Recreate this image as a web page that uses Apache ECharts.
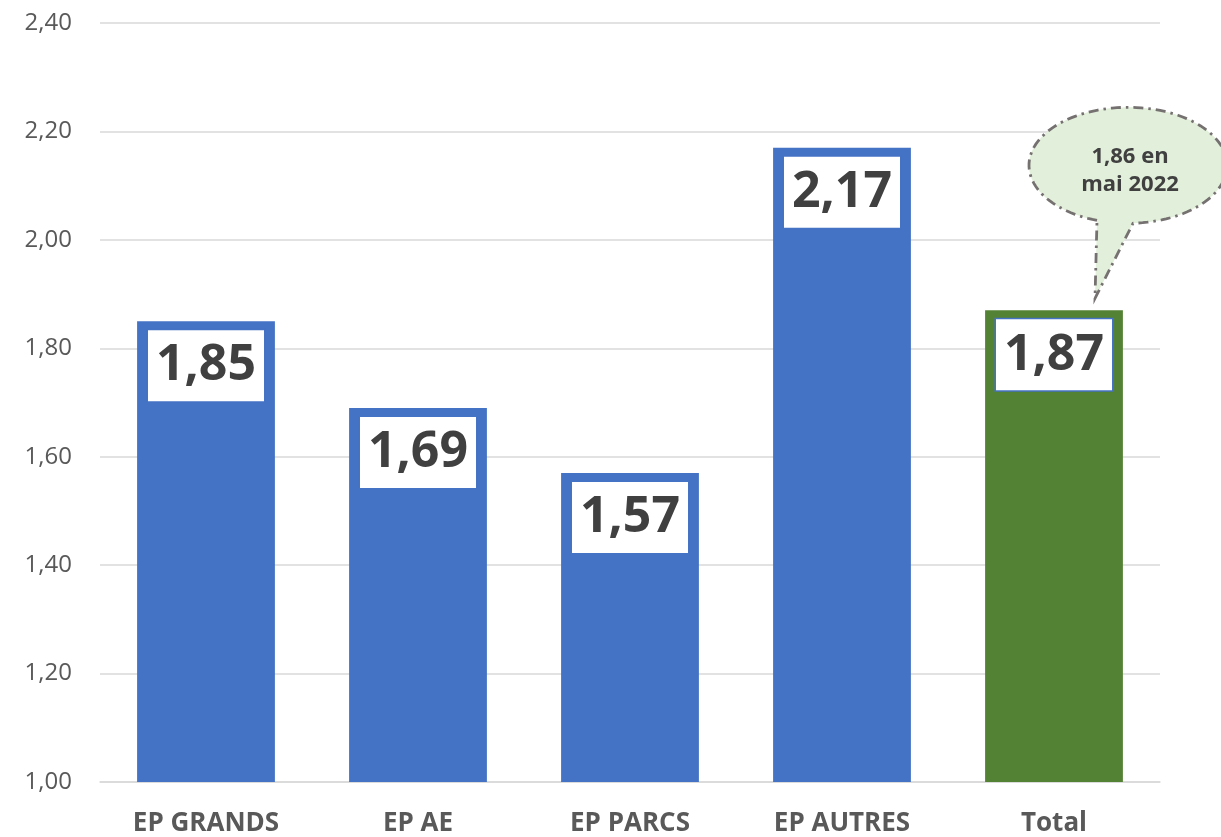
<!DOCTYPE html>
<html>
<head>
<meta charset="utf-8">
<script src="https://cdn.jsdelivr.net/npm/echarts@6/dist/echarts.min.js"></script>
<style>
html,body{margin:0;padding:0;background:#fff;}
#chart{width:1221px;height:837px;}
</style>
</head>
<body>
<div id="chart"></div>
<script>
var categories = ['EP GRANDS', 'EP AE', 'EP PARCS', 'EP AUTRES', 'Total'];
var values = [1.85, 1.69, 1.57, 2.17, 1.87];
var barColors = ['#4472C4', '#4472C4', '#4472C4', '#4472C4', '#548235'];
var yMin = 1.0, yMax = 2.4, yInterval = 0.2;
var calloutLines = ['1,86 en', 'mai 2022'];

function fmt(v) { return v.toFixed(2).replace('.', ','); }

var chart = echarts.init(document.getElementById('chart'));
var option = {
  animation: false,
  grid: { left: 100, right: 61, top: 23, bottom: 55, containLabel: false },
  xAxis: {
    type: 'category',
    data: categories,
    axisTick: { show: false },
    axisLine: { lineStyle: { color: '#D9D9D9', width: 1.5 } },
    axisLabel: {
      color: '#595959', fontFamily: 'Open Sans', fontWeight: 'bold', fontSize: 26,
      margin: 29, interval: 0
    }
  },
  yAxis: {
    type: 'value',
    min: yMin, max: yMax, interval: yInterval,
    axisLine: { show: false },
    axisTick: { show: false },
    splitLine: { lineStyle: { color: '#D9D9D9', width: 1.5 } },
    axisLabel: {
      color: '#595959', fontFamily: 'Open Sans', fontSize: 24, margin: 28,
      formatter: function (v) { return fmt(v); }
    }
  },
  series: [{
    type: 'bar',
    barCategoryGap: '35%',
    data: values.map(function (v, i) {
      return { value: v, itemStyle: { color: barColors[i] } };
    }),
    label: {
      show: true,
      position: 'insideTop',
      distance: 9,
      formatter: function (p) { return fmt(p.value); },
      color: '#404040',
      fontFamily: 'Open Sans',
      fontWeight: 'bold',
      fontSize: 50,
      lineHeight: 56,
      backgroundColor: '#FFFFFF',
      borderColor: '#4472C4',
      borderWidth: 1.5,
      padding: [8, 8, 7, 8]
    }
  }]
};
chart.setOption(option);

// Callout bubble anchored to the Total bar
var last = categories.length - 1;
var pt = chart.convertToPixel({ seriesIndex: 0 }, [last, values[last]]);
var bx = pt[0], by = pt[1];
var cx = bx + 74, cy = by - 145, rx = 99, ry = 58;
var tipX = bx + 41, tipY = by - 12;
var aL = Math.acos(-31 / rx);
var aR = Math.acos(5 / rx);
var pts = [];
var N = 120;
var start = aL, end = aR + 2 * Math.PI;
for (var i = 0; i <= N; i++) {
  var t = start + (end - start) * i / N;
  pts.push([cx + rx * Math.cos(t), cy + ry * Math.sin(t)]);
}
pts.push([tipX, tipY]);

chart.setOption({
  graphic: [
    {
      type: 'polygon',
      shape: { points: pts },
      style: {
        fill: '#E2EFDA', stroke: '#767171', lineWidth: 2.8,
        lineDash: [10, 5, 2.5, 5]
      },
      z: 100
    },
    {
      type: 'text',
      x: cx + 2, y: cy + 5,
      style: {
        text: calloutLines.join('\n'),
        fill: '#404040',
        font: 'bold 22px "Open Sans"',
        lineHeight: 28,
        align: 'center',
        verticalAlign: 'middle'
      },
      z: 101
    }
  ]
});
</script>
</body>
</html>
